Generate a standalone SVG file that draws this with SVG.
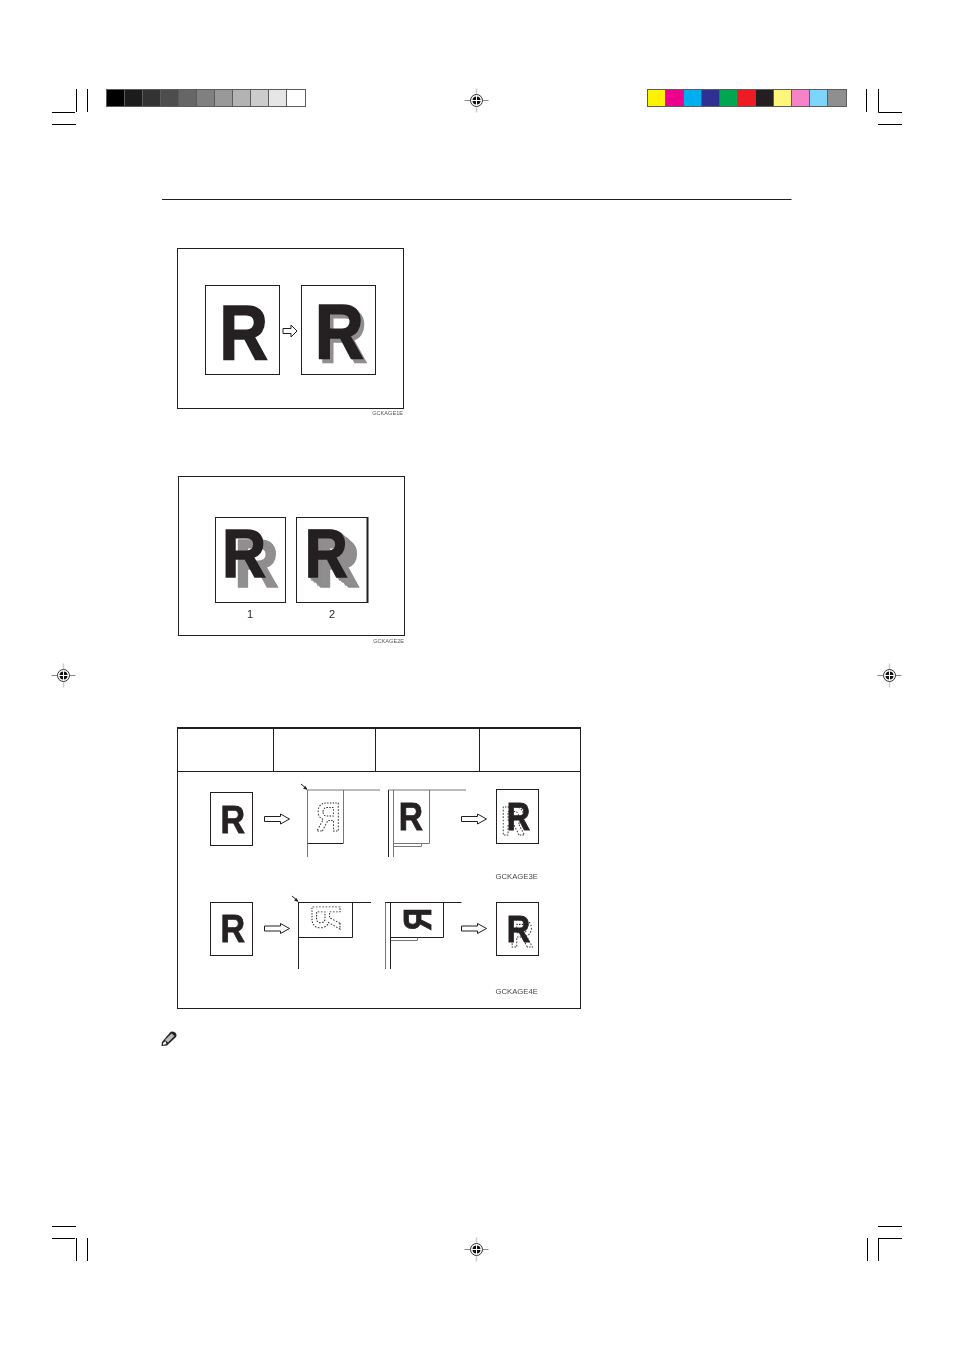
<svg xmlns="http://www.w3.org/2000/svg" xmlns:xlink="http://www.w3.org/1999/xlink" width="954" height="1350" viewBox="0 0 954 1350">
<style>
.ln{fill:none;stroke:#231f20;stroke-width:1}
.lg{fill:none;stroke:#777;stroke-width:1}
.pg{fill:#fff;stroke:#231f20;stroke-width:1}
.crop{stroke:#000;stroke-width:1;fill:none}
text{font-family:"Liberation Sans",Arial,sans-serif}
.r,.rd,.rs{font-weight:700;font-size:100px}
.r{fill:#231f20;stroke:#231f20;stroke-width:1.6px;vector-effect:non-scaling-stroke;opacity:.99}
.rs{fill:#231f20;stroke:#231f20;stroke-width:.8px;vector-effect:non-scaling-stroke;opacity:.99}
.rg{fill:#8f8d8d;stroke:#8f8d8d}
.rd{fill:none;stroke:#231f20;stroke-width:1px;stroke-dasharray:1.5 1.5;vector-effect:non-scaling-stroke;opacity:.99}
.code{fill:#444;font-size:7.7px;opacity:.99}
.codes{fill:#555;font-size:5.6px;opacity:.99}
.num{fill:#231f20;font-size:11px;text-anchor:middle;opacity:.99}
.arrow{fill:#fff;stroke:#231f20;stroke-width:1}
</style>
<defs>
<g id="reg">
<path d="M-12 0H12" stroke="#888" stroke-width="1"/>
<path d="M0 -12V12" stroke="#ccc" stroke-width="1.5"/>
<circle r="6" fill="#fff" stroke="#333" stroke-width="1"/>
<circle r="4" fill="#111"/>
<path d="M-5 0H5M0 -5V5" stroke="#fff" stroke-width="1"/>
</g>
<path id="arw" d="M0 -2.5H16V-5L25 0L16 5V2.5H0Z" class="arrow"/>
<filter id="extrude" filterUnits="userSpaceOnUse" x="297" y="518" width="70" height="84" color-interpolation-filters="sRGB">
<feOffset in="SourceGraphic" dx="1.5" dy="1.25" result="a"/>
<feOffset in="SourceGraphic" dx="3" dy="2.5" result="b"/>
<feOffset in="SourceGraphic" dx="4.5" dy="3.75" result="c"/>
<feOffset in="SourceGraphic" dx="6" dy="5" result="d"/>
<feOffset in="SourceGraphic" dx="7.5" dy="6.25" result="e"/>
<feOffset in="SourceGraphic" dx="9" dy="7.5" result="f"/>
<feOffset in="SourceGraphic" dx="10.5" dy="8.75" result="g"/>
<feOffset in="SourceGraphic" dx="12" dy="10" result="h"/>
<feMerge>
<feMergeNode in="SourceGraphic"/><feMergeNode in="a"/><feMergeNode in="b"/><feMergeNode in="c"/><feMergeNode in="d"/><feMergeNode in="e"/><feMergeNode in="f"/><feMergeNode in="g"/><feMergeNode in="h"/>
</feMerge>
</filter>
</defs>
<rect width="954" height="1350" fill="#fff"/>

<g id="print-marks">
<g class="crop">
<path d="M52 112.5H75M76.5 89V112M87.5 89V112M52 124.5H76"/>
<path d="M866.5 89V112M878.5 89V112.5H902M878 124.5H902"/>
<path d="M52 1226.5H76M52 1238.5H75M76.5 1238V1261M87.5 1238V1261"/>
<path d="M878 1226.5H902M879 1238.5H902M878.5 1238V1261M867.5 1238V1261"/>
</g>
<g stroke="#5c5c5c" stroke-width="1">
<rect x="106.5" y="89.5" width="18" height="17" fill="#000"/>
<rect x="124.5" y="89.5" width="18" height="17" fill="#1c1c1c"/>
<rect x="142.5" y="89.5" width="18" height="17" fill="#333"/>
<rect x="160.5" y="89.5" width="18" height="17" fill="#4d4d4d"/>
<rect x="178.5" y="89.5" width="18" height="17" fill="#666"/>
<rect x="196.5" y="89.5" width="18" height="17" fill="#808080"/>
<rect x="214.5" y="89.5" width="18" height="17" fill="#999"/>
<rect x="232.5" y="89.5" width="18" height="17" fill="#b3b3b3"/>
<rect x="250.5" y="89.5" width="18" height="17" fill="#ccc"/>
<rect x="268.5" y="89.5" width="18" height="17" fill="#e6e6e6"/>
<rect x="286.5" y="89.5" width="19" height="17" fill="#fff"/>
<rect x="647.5" y="89.5" width="18" height="17" fill="#fff200"/>
<rect x="665.5" y="89.5" width="18" height="17" fill="#ec008c"/>
<rect x="683.5" y="89.5" width="18" height="17" fill="#00aeef"/>
<rect x="701.5" y="89.5" width="18" height="17" fill="#2e3192"/>
<rect x="719.5" y="89.5" width="18" height="17" fill="#00a651"/>
<rect x="737.5" y="89.5" width="18" height="17" fill="#ed1c24"/>
<rect x="755.5" y="89.5" width="18" height="17" fill="#231f20"/>
<rect x="773.5" y="89.5" width="18" height="17" fill="#fff57a"/>
<rect x="791.5" y="89.5" width="18" height="17" fill="#f782c8"/>
<rect x="809.5" y="89.5" width="18" height="17" fill="#7dd6fa"/>
<rect x="827.5" y="89.5" width="19" height="17" fill="#8f8f8f"/>
</g>
<use xlink:href="#reg" href="#reg" x="476.5" y="100.5"/>
<use xlink:href="#reg" href="#reg" x="476.5" y="1249.5"/>
<use xlink:href="#reg" href="#reg" x="63.5" y="675.5"/>
<use xlink:href="#reg" href="#reg" x="889.5" y="675.5"/>
</g>

<path id="header-rule" d="M162 199.5H791.5" stroke="#231f20" stroke-width="1" fill="none"/>

<g id="figure-1">
<rect class="pg" x="177.5" y="248.5" width="226" height="160"/>
<rect class="pg" x="205.5" y="285.5" width="74" height="89"/>
<rect class="pg" x="301.5" y="285.5" width="74" height="89"/>
<text class="r" transform="translate(219.5 359.3) scale(.67 .77)">R</text>
<text class="r rg" transform="translate(318.5 362.3) scale(.675 .77)">R</text>
<text class="r" transform="translate(315 358.3) scale(.675 .77)">R</text>
<path class="arrow" d="M283 328.5H291V325L297 331L291 337V333.5H283Z"/>
<text class="codes" x="403" y="415" text-anchor="end">GCKAGE1E</text>
</g>

<g id="figure-2">
<rect class="pg" x="178.5" y="476.5" width="226" height="159"/>
<rect class="pg" x="215.5" y="517.5" width="70" height="85"/>
<rect class="pg" x="296.5" y="517.5" width="71" height="85"/>
<path d="M367.5 517V603" stroke="#231f20" stroke-width="2"/>
<text class="r rg" transform="translate(234.6 587.3) scale(.61 .69)">R</text>
<text class="r" transform="translate(222.2 577.3) scale(.605 .69)">R</text>
<g filter="url(#extrude)">
<text class="r rg" transform="translate(305 577.3) scale(.59 .69)">R</text>
</g>
<text class="r" transform="translate(305 577.3) scale(.59 .69)">R</text>
<text class="num" x="250" y="618">1</text>
<text class="num" x="332" y="618">2</text>
<text class="codes" x="404" y="643" text-anchor="end">GCKAGE2E</text>
</g>

<g id="table">
<rect class="pg" x="177.5" y="727.5" width="403" height="281"/>
<path d="M177 728H581" stroke="#231f20" stroke-width="2"/>
<path class="ln" d="M177.5 771.5H580.5M273.5 728V771M375.5 728V771M479.5 728V771"/>
</g>

<g id="row-1">
<g id="r1-original">
<rect class="pg" x="210.5" y="792.5" width="42" height="53"/>
<text class="rs" transform="translate(220.5 832.7) scale(.34 .39)">R</text>
</g>
<g id="r1-first-side">
<path class="lg" d="M308 790H380"/>
<path class="lg" d="M307.5 790V857"/>
<path class="lg" d="M343.5 790V843"/>
<path class="ln" d="M307.5 843.5H343.5"/>
<text class="rd" transform="translate(340.5 831) scale(-.335 .4)">R</text>
<path d="M301 784L307 789" stroke="#231f20" fill="none"/>
<path d="M307.5 790L303 788.5L305.5 786Z" fill="#231f20"/>
</g>
<g id="r1-second-side">
<path class="ln" d="M388.5 790V857"/>
<path class="lg" d="M393.5 790V857"/>
<path class="lg" d="M388 790H466"/>
<path class="lg" d="M429.5 790V843.5H394"/>
<path class="lg" d="M394 846.5H421.5V843.5"/>
<text class="rs" transform="translate(398.8 830) scale(.335 .38)">R</text>
</g>
<g id="r1-result">
<rect class="pg" x="496.5" y="789.5" width="42" height="54"/>
<text class="rs" transform="translate(506.8 830) scale(.325 .38)">R</text>
<text class="rd" transform="translate(501 835) scale(.335 .41)">R</text>
</g>
<text class="code" x="495.5" y="879">GCKAGE3E</text>
</g>

<g id="row-2">
<g id="r2-original">
<rect class="pg" x="210.5" y="902.5" width="42" height="53"/>
<text class="rs" transform="translate(220.5 942.2) scale(.34 .39)">R</text>
</g>
<g id="r2-first-side">
<path class="ln" d="M298.5 902V969M298.5 902.5H371M352.5 902.5V937.5H298.5"/>
<text class="rd" transform="matrix(0 .35 .41 0 340 904.6)">R</text>
<path d="M292 896L298 901" stroke="#231f20" fill="none"/>
<path d="M298.5 902L294 900.5L296.5 898Z" fill="#231f20"/>
</g>
<g id="r2-second-side">
<path class="lg" d="M385.5 902V969"/>
<path class="ln" d="M390.5 902V969"/>
<path class="ln" d="M385 902.5H461.5M443.5 902.5V937.5H390.5"/>
<path class="lg" d="M391 940.5H417.5V937.5"/>
<text class="rs" transform="matrix(0 .31 .39 0 430.7 908)">R</text>
</g>
<g id="r2-result">
<rect class="pg" x="496.5" y="902.5" width="42" height="53"/>
<text class="rs" transform="translate(506.8 941.7) scale(.325 .375)">R</text>
<text class="rd" transform="translate(510 946.7) scale(.32 .385)">R</text>
</g>
<text class="code" x="495.5" y="994">GCKAGE4E</text>
</g>

<g id="connectors">
<use xlink:href="#arw" href="#arw" x="264.5" y="819"/>
<use xlink:href="#arw" href="#arw" x="461.5" y="819"/>
<use xlink:href="#arw" href="#arw" x="264.5" y="928.5"/>
<use xlink:href="#arw" href="#arw" x="461.5" y="928.5"/>
</g>

<g id="note-icon">
<path d="M162 1042L170 1032.5Q172 1030.5 175 1032.5Q177.5 1034.5 176 1037L167 1045.5L161.5 1046Z" fill="#222"/>
<path d="M165 1040L171.5 1033.5L174.5 1036L168 1042.5Z" fill="#bbb"/>
<path d="M163 1043L165.5 1041L166.5 1044L163 1045Z" fill="#eee"/>
</g>
</svg>
